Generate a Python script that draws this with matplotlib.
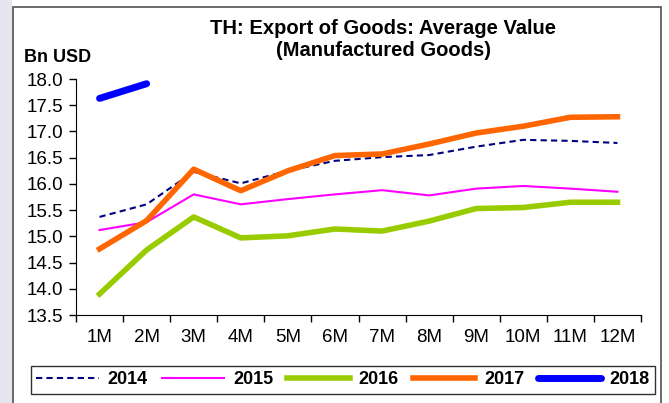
import matplotlib
matplotlib.use("Agg")
import matplotlib.pyplot as plt
from matplotlib.patches import Rectangle

plt.rcParams['font.family'] = ['Liberation Sans', 'DejaVu Sans']

months = ["1M", "2M", "3M", "4M", "5M", "6M", "7M", "8M", "9M", "10M", "11M", "12M"]
y2014 = [15.37, 15.61, 16.23, 16.01, 16.25, 16.44, 16.51, 16.55, 16.71, 16.84, 16.82, 16.78]
y2015 = [15.12, 15.27, 15.80, 15.61, 15.71, 15.80, 15.88, 15.78, 15.91, 15.96, 15.91, 15.85]
y2016 = [13.90, 14.74, 15.37, 14.97, 15.01, 15.14, 15.10, 15.29, 15.53, 15.55, 15.65, 15.65]
y2017 = [14.76, 15.30, 16.28, 15.87, 16.25, 16.54, 16.57, 16.76, 16.97, 17.10, 17.27, 17.28]
y2018 = [17.63, 17.91]

fig = plt.figure(figsize=(6.69, 4.03), dpi=100)
fig.patch.set_facecolor("white")

# light strip on the left edge and the outer frame
fig.patches.append(Rectangle((0, 0), 12 / 669, 1, transform=fig.transFigure,
                             facecolor="#E6E6F0", edgecolor="none", zorder=0))
fig.patches.append(Rectangle((13 / 669, -0.05), 648 / 669, 1.05 - 7 / 403,
                             transform=fig.transFigure, facecolor="none",
                             edgecolor="#505050", linewidth=1.2, zorder=1))

ax = fig.add_axes([76 / 669, (403 - 315) / 403, (641 - 76) / 669, (315 - 79) / 403])
x = list(range(len(months)))

ax.plot(x, y2014, color="#000080", lw=1.5, ls=(0, (3, 2)), label="2014")
ax.plot(x, y2015, color="#FF00FF", lw=1.5, label="2015")
ax.plot(x, y2016, color="#99CC00", lw=4, label="2016")
ax.plot(x, y2017, color="#FF6600", lw=4, label="2017")
ax.plot(x[:len(y2018)], y2018, color="#0000FF", lw=5, solid_capstyle="round", label="2018")

ax.set_xlim(-0.5, 11.5)
ax.set_ylim(13.5, 18.0)
ax.set_yticks([13.5 + 0.5 * i for i in range(10)])
ax.set_yticklabels([f"{13.5 + 0.5 * i:.1f}" for i in range(10)], fontsize=13.5)
ax.set_xticks([i - 0.5 for i in range(13)])
ax.set_xticklabels([])
ax.set_xticks(x, minor=True)
ax.set_xticklabels(months, minor=True, fontsize=13.5)
ax.tick_params(axis="x", which="minor", length=0, pad=10)
ax.tick_params(axis="x", which="major", length=5, width=1)
ax.tick_params(axis="y", length=5, width=1, pad=4)

for side in ["top", "right"]:
    ax.spines[side].set_visible(False)
ax.set_facecolor("none")

fig.text(383 / 669, 1 - 28 / 403, "TH: Export of Goods: Average Value",
         ha="center", va="center", fontsize=14.5, fontweight="bold")
fig.text(383 / 669, 1 - 50 / 403, "(Manufactured Goods)",
         ha="center", va="center", fontsize=14.5, fontweight="bold")
fig.text(24 / 669, 1 - 57 / 403, "Bn USD", ha="left", va="center",
         fontsize=13, fontweight="bold")

leg = fig.legend(loc="center", bbox_to_anchor=(343 / 669, 1 - 380 / 403), ncol=5,
                 frameon=True, fancybox=False, handlelength=3.45, handletextpad=0.5,
                 columnspacing=0.78, borderpad=0.3, prop={"weight": "bold", "size": 13})
leg.get_frame().set_edgecolor("black")
leg.get_frame().set_linewidth(1)

fig.savefig("out.png", dpi=100)
